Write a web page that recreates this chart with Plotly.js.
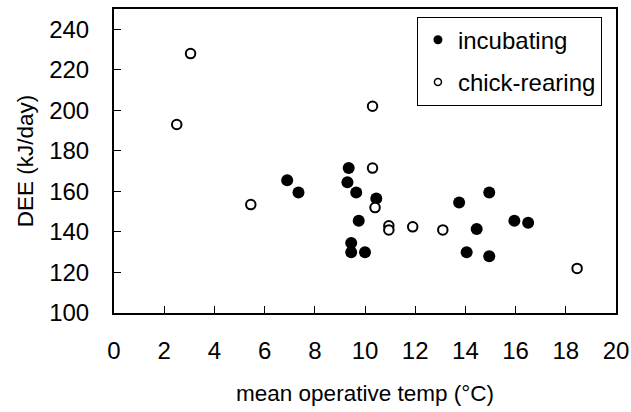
<!DOCTYPE html>
<html>
<head>
<meta charset="utf-8">
<script src="https://cdn.plot.ly/plotly-3.0.1.min.js"></script>
<style>html,body{margin:0;padding:0;background:#fff;}#chart{width:631px;height:412px;}</style>
</head>
<body>
<div id="chart"></div>
<script>
// incubating (filled)
const incX = [6.9, 7.35, 9.35, 9.3, 9.65, 9.75, 9.45, 9.45, 10.0, 10.45, 13.75, 14.95, 14.45, 14.05, 14.95, 15.95, 16.5];
const incY = [165.5, 159.5, 171.5, 164.5, 159.5, 145.5, 134.5, 130, 130, 156.5, 154.5, 159.5, 141.5, 130, 128, 145.5, 144.5];
// chick-rearing (open)
const chkX = [3.05, 2.5, 5.45, 10.3, 10.3, 10.4, 10.95, 10.95, 11.9, 13.1, 18.45];
const chkY = [228, 193, 153.5, 202, 171.5, 152, 143, 141, 142.5, 141, 122];
const xTicks = [0, 2, 4, 6, 8, 10, 12, 14, 16, 18, 20];
const yTicks = [100, 120, 140, 160, 180, 200, 220, 240];
const names = ['incubating', 'chick-rearing'];

const FONT = 'Liberation Sans, Arial, sans-serif';

const traces = [
  {x: incX, y: incY, type: 'scatter', mode: 'markers', showlegend: false,
   marker: {symbol: 'circle', size: 12, color: '#000', line: {width: 0}}},
  {x: chkX, y: chkY, type: 'scatter', mode: 'markers', showlegend: false,
   marker: {symbol: 'circle', size: 9.5, color: '#fff', line: {width: 2, color: '#000'}}},
  // legend-only entries (no data drawn)
  {x: [null], y: [null], type: 'scatter', mode: 'markers', name: names[0], legendgroup: 'a',
   marker: {symbol: 'circle', size: 9, color: '#000', line: {width: 0}}},
  {x: [null], y: [null], type: 'scatter', mode: 'markers', name: names[1], legendgroup: 'b',
   marker: {symbol: 'circle', size: 7, color: '#fff', line: {width: 1.5, color: '#000'}}}
];

const layout = {
  width: 631, height: 412,
  margin: {l: 114, r: 15, t: 9, b: 99},
  paper_bgcolor: '#fff', plot_bgcolor: '#fff',
  font: {family: FONT, size: 22, color: '#000'},
  showlegend: true,
  legend: {x: 0.972, y: 0.975, xanchor: 'right', yanchor: 'top',
    bgcolor: '#fff', bordercolor: '#000', borderwidth: 1,
    font: {family: FONT, size: 24, color: '#000'},
    traceorder: 'grouped', tracegroupgap: 8},
  xaxis: {
    range: [0, 20], tickvals: xTicks, ticktext: xTicks.map(String),
    ticks: 'inside', ticklen: 7, tickwidth: 1, tickcolor: '#000',
    showline: true, linewidth: 2, linecolor: '#000', mirror: true,
    showgrid: false, zeroline: false, ticklabelstandoff: 15,
    tickfont: {family: FONT, size: 24, color: '#000'},
    title: {text: 'mean operative temp (°C)', font: {family: FONT, size: 22.5, color: '#000'}, standoff: 22}
  },
  yaxis: {
    range: [100, 250], tickvals: yTicks, ticktext: yTicks.map(String),
    ticks: 'inside', ticklen: 7, tickwidth: 1, tickcolor: '#000',
    showline: true, linewidth: 2, linecolor: '#000', mirror: true,
    showgrid: false, zeroline: false, ticklabelstandoff: 18,
    tickfont: {family: FONT, size: 24, color: '#000'},
    title: {text: 'DEE (kJ/day)', font: {family: FONT, size: 22.5, color: '#000'}, standoff: 9}
  }
};

Plotly.newPlot('chart', traces, layout, {displayModeBar: false, staticPlot: true});
</script>
</body>
</html>
